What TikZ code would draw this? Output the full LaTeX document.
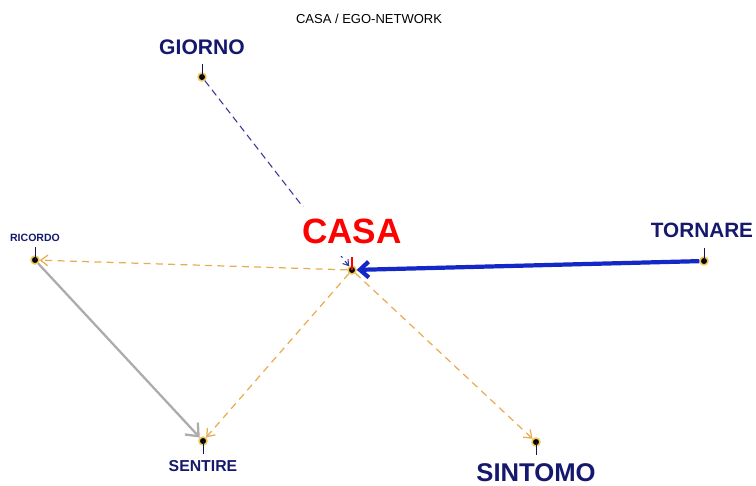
\documentclass[tikz,border=0pt]{standalone}
\usepackage{fontspec}
\setmainfont{Liberation Sans}
\usetikzlibrary{arrows.meta}
\definecolor{navytxt}{RGB}{22,24,110}
\definecolor{bleufort}{RGB}{20,40,200}
\definecolor{bleutir}{RGB}{50,50,150}
\definecolor{orangetir}{RGB}{232,172,80}
\definecolor{grislien}{RGB}{172,172,172}
\definecolor{halo}{RGB}{240,200,90}
\tikzset{
    pt/.style={circle, fill=black, draw=halo, line width=0.9pt, inner sep=0pt, minimum size=4.5pt},
    mot/.style={text=navytxt, font=\bfseries, inner sep=1pt},
    tick/.style={navytxt!80!black, line width=0.5pt},
    lienorange/.style={orangetir, line width=0.7pt, dash pattern=on 4pt off 3pt, -{Straight Barb[length=4pt,width=6pt]}},
}
\begin{document}
\begin{tikzpicture}[x=0.02cm, y=-0.02cm]
    \useasboundingbox (0,0) rectangle (756,485);

    % Titre
    \node[font=\fontsize{7.4}{9}\selectfont] (titre) at (369,19) {CASA / EGO-NETWORK};

    % Points
    \node[pt] (casa) at (352,270) {};
    \node[pt] (giorno) at (202,77) {};
    \node[pt] (ricordo) at (35,260) {};
    \node[pt] (sentire) at (203,441) {};
    \node[pt] (sintomo) at (536,442) {};
    \node[pt] (tornare) at (704,261) {};

    % Petits traits vers les etiquettes
    \draw[red, line width=0.6pt] (casa.center) -- ++(0,-13);
    \draw[tick] (giorno.center) -- ++(0,-13);
    \draw[tick] (ricordo.center) -- ++(0,-13);
    \draw[tick] (sentire.center) -- ++(0,13);
    \draw[tick] (sintomo.center) -- ++(0,13);
    \draw[tick] (tornare.center) -- ++(0,-13);

    % Liens
    \draw[bleutir, line width=0.6pt, dash pattern=on 4pt off 2.5pt, -{Straight Barb[length=3pt,width=4pt]}] (giorno) -- (casa);
    \draw[lienorange] (casa) -- (ricordo);
    \draw[lienorange] (casa) -- (sentire);
    \draw[lienorange] (casa) -- (sintomo);
    \draw[grislien, line width=1.3pt, -{Straight Barb[length=6pt,width=10pt]}] (ricordo) -- (sentire);
    \draw[bleufort, line width=2.4pt, -{Straight Barb[length=5pt,width=9pt]}] (tornare) -- (casa);

    % Etiquettes
    \node[font=\bfseries\fontsize{20}{22}\selectfont, text=red, fill=white, inner sep=3pt, minimum height=0.98cm] (lcasa) at (352,231) {CASA};
    \node[mot, font=\bfseries\fontsize{12}{14}\selectfont] (lgiorno) at (202,47) {GIORNO};
    \node[mot, font=\bfseries\fontsize{6}{7}\selectfont] (lricordo) at (35,238) {RICORDO};
    \node[mot, font=\bfseries\fontsize{9}{11}\selectfont] (lsentire) at (203,466) {SENTIRE};
    \node[mot, font=\bfseries\fontsize{14.6}{16}\selectfont] (lsintomo) at (536,473) {SINTOMO};
    \node[mot, font=\bfseries\fontsize{11.8}{14}\selectfont] (ltornare) at (702,230) {TORNARE};

\end{tikzpicture}
\end{document}
